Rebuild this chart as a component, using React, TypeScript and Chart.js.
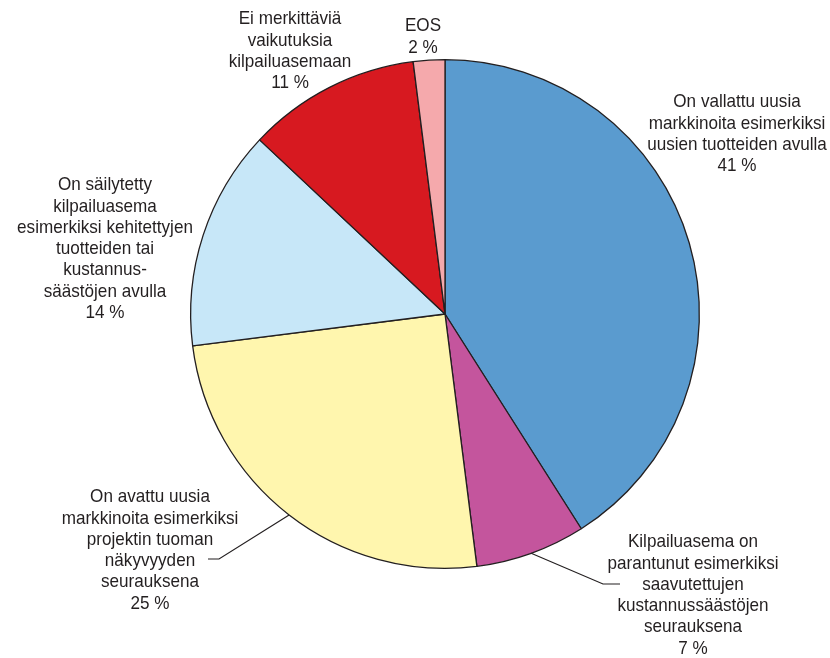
import React, { useEffect, useRef } from "react";
import { Chart, registerables } from "chart.js";

Chart.register(...registerables);

const categories: string[][] = [
  ["On vallattu uusia", "markkinoita esimerkiksi", "uusien tuotteiden avulla"],
  ["Kilpailuasema on", "parantunut esimerkiksi", "saavutettujen", "kustannussäästöjen", "seurauksena"],
  ["On avattu uusia", "markkinoita esimerkiksi", "projektin tuoman", "näkyvyyden", "seurauksena"],
  ["On säilytetty", "kilpailuasema", "esimerkiksi kehitettyjen", "tuotteiden tai", "kustannus-", "säästöjen avulla"],
  ["Ei merkittäviä", "vaikutuksia", "kilpailuasemaan"],
  ["EOS"],
];
const values: number[] = [41, 7, 25, 14, 11, 2];
const colors: string[] = ["#5A9BCF", "#C4559D", "#FFF6AE", "#C7E7F8", "#D71920", "#F5A9AC"];

// label block centre x and first-line middle y (layout only)
const labelPos = [
  { x: 737, y: 102 },
  { x: 693, y: 542 },
  { x: 150, y: 497 },
  { x: 105, y: 185 },
  { x: 290, y: 19 },
  { x: 423, y: 26 },
];
// leader lines: elbow point and end point (null = none)
const leaders: ({ elbow: [number, number]; end: [number, number] } | null)[] = [
  null,
  { elbow: [603, 584], end: [620, 584] },
  { elbow: [219, 559], end: [208, 559] },
  null,
  null,
  null,
];

const FONT = '19px "Liberation Sans", Arial, sans-serif';
const X_SCALE = 0.9;
const LINE_H = 21.3;

const labelPlugin = {
  id: "pieLabels",
  afterDraw(chart: any) {
    const ctx = chart.ctx;
    const meta = chart.getDatasetMeta(0);
    ctx.save();
    ctx.font = FONT;
    ctx.fillStyle = "#231F20";
    ctx.textAlign = "center";
    ctx.textBaseline = "middle";
    categories.forEach((lines, i) => {
      const all = [...lines, `${values[i]} %`];
      const p = labelPos[i];
      all.forEach((t, j) => {
        ctx.save();
        ctx.translate(p.x, p.y + j * LINE_H);
        ctx.scale(X_SCALE, 1);
        ctx.fillText(t, 0, 0);
        ctx.restore();
      });
      const ld = leaders[i];
      if (ld) {
        const arc = meta.data[i] as any;
        const mid = (arc.startAngle + arc.endAngle) / 2;
        const sx = arc.x + Math.cos(mid) * arc.outerRadius;
        const sy = arc.y + Math.sin(mid) * arc.outerRadius;
        ctx.beginPath();
        ctx.strokeStyle = "#231F20";
        ctx.lineWidth = 1.2;
        ctx.moveTo(sx, sy);
        ctx.lineTo(ld.elbow[0], ld.elbow[1]);
        ctx.lineTo(ld.end[0], ld.end[1]);
        ctx.stroke();
      }
    });
    ctx.restore();
  },
};

export default function App() {
  const ref = useRef<HTMLCanvasElement>(null);
  useEffect(() => {
    if (!ref.current) return;
    const chart = new Chart(ref.current, {
      type: "pie",
      data: {
        labels: categories.map((c) => c.join(" ")),
        datasets: [
          {
            data: values,
            backgroundColor: colors,
            borderColor: "#231F20",
            borderWidth: 1.3,
          },
        ],
      },
      options: {
        responsive: false,
        animation: false,
        layout: { padding: { left: 190, right: 130, top: 59, bottom: 89 } },
        plugins: { legend: { display: false }, tooltip: { enabled: false } },
      },
      plugins: [labelPlugin],
    });
    return () => chart.destroy();
  }, []);
  return (
    <div style={{ position: "absolute", left: 0, top: 0, width: 830, height: 658, background: "#fff" }}>
      <canvas ref={ref} width={830} height={658} />
    </div>
  );
}
